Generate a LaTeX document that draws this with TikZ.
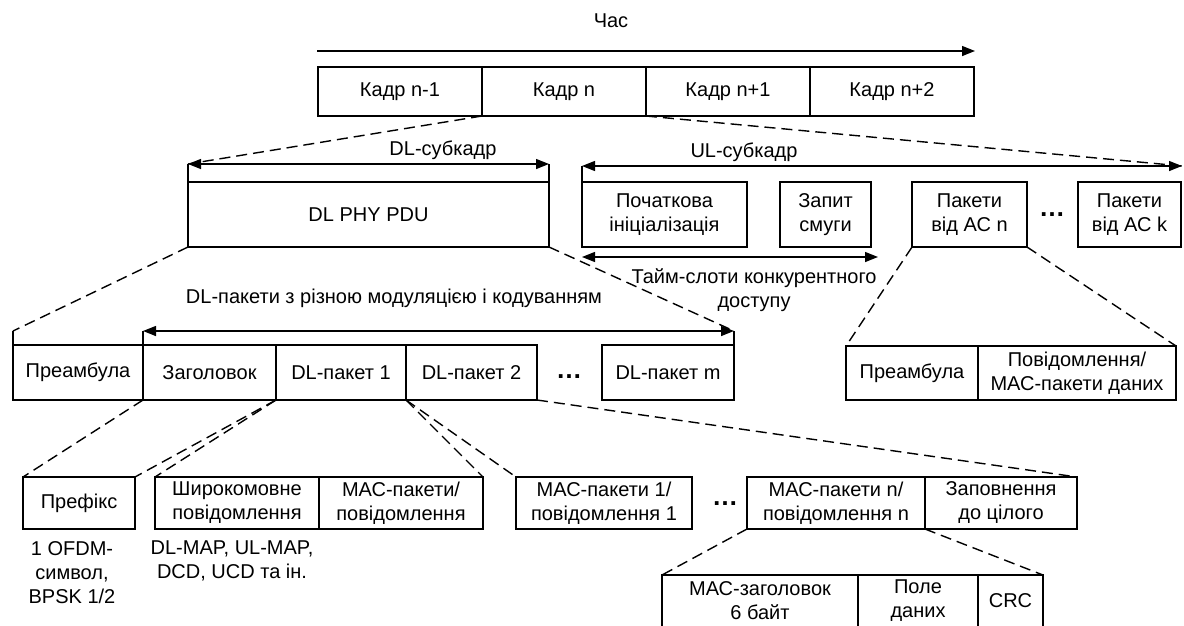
\documentclass[tikz,border=0pt]{standalone}
\usepackage{fontspec}
\setmainfont{Liberation Sans}
\usetikzlibrary{arrows.meta,positioning}
\tikzset{
 cell/.style={draw,inner sep=0pt,outer sep=0pt,align=center,anchor=north west},
 link/.style={dash pattern=on 11pt off 6pt},
 note/.style={align=center,inner sep=0pt},
 dots/.style={font=\fontsize{26}{26}\selectfont\bfseries}
}

\begin{document}
\begin{tikzpicture}[x=1pt,y=-1pt,>={Triangle[length=13pt,width=10pt]},line width=1.4pt,
 line join=miter,font=\fontsize{20}{24}\selectfont]
\useasboundingbox (0,0) rectangle (1184,625);
% Вісь часу і послідовність кадрів
\node (chas) at (611,21) {Час};
\coordinate (T0) at (317,51);
\coordinate (T1) at (975,51);
\draw[->] (T0) -- (T1);
\node[cell,minimum width=164pt,minimum height=49pt] (k1) at (318,67) {Кадр n-1};
\node[cell,minimum width=164pt,minimum height=49pt,right=0pt of k1] (k2) {Кадр n};
\node[cell,minimum width=164pt,minimum height=49pt,right=0pt of k2] (k3) {Кадр n+1};
\node[cell,minimum width=164pt,minimum height=49pt,right=0pt of k3] (k4) {Кадр n+2};
% DL-субкадр
\coordinate (D0) at (188,164);
\coordinate (D1) at (549,164);
\node[cell,minimum width=361pt,minimum height=65pt] (pdu) at (188,182) {DL PHY PDU};
\draw[<->] (D0) -- (D1);
\draw (D0) -- (pdu.north west);
\draw (D1) -- (pdu.north east);
\node (dlsub) at (443,150) {DL-субкадр};
% UL-субкадр
\coordinate (U0) at (582,166);
\coordinate (U1) at (1182,166);
\draw[<->] (U0) -- (U1);
\node (ulsub) at (744,152) {UL-субкадр};
\node[cell,minimum width=165pt,minimum height=65pt] (poch) at (582,182) {Початкова\\ініціалізація};
\node[cell,minimum width=91pt,minimum height=65pt] (zapyt) at (780,182) {Запит\\смуги};
\node[cell,minimum width=115pt,minimum height=65pt] (pakn) at (912,182) {Пакети\\від АС n};
\node[cell,minimum width=103pt,minimum height=65pt] (pakk) at (1078,182) {Пакети\\від АС k};
\node[dots] (uldots) at (1052,215) {…};
\draw (U0) -- (poch.north west);
\coordinate (C0) at (582,257);
\coordinate (C1) at (878,257);
\draw[<->] (C0) -- (C1);
\node[note] (cont) at (754,290) {Тайм-слоти конкурентного\\доступу};
\draw[link] (k2.south west) -- (D0);
\draw[link] (k3.south west) -- (U1);
% DL-пакети
\node[cell,minimum width=130pt,minimum height=55pt] (pre) at (13,345) {Преамбула};
\node[cell,minimum width=133pt,minimum height=55pt,right=0pt of pre] (zag) {Заголовок};
\node[cell,minimum width=130pt,minimum height=55pt,right=0pt of zag] (p1) {DL-пакет 1};
\node[cell,minimum width=131pt,minimum height=55pt,right=0pt of p1] (p2) {DL-пакет 2};
\node[dots] (dldots) at (569,377) {…};
\node[cell,minimum width=132pt,minimum height=55pt] (pm) at (602,345) {DL-пакет m};
\coordinate (A0) at (143,331);
\coordinate (A1) at (734,331);
\coordinate (P0) at (13,331);
\draw[<->] (A0) -- (A1);
\draw (A0) -- (zag.north west);
\draw (A1) -- (pm.north east);
\draw (P0) -- (pre.north west);
\node (dlpk) at (394,298) {DL-пакети з різною модуляцією і кодуванням};
\draw[link] (pdu.south west) -- (P0);
\draw[link] (pdu.south east) -- (A1);
% UL-пакет від АС
\node[cell,minimum width=132pt,minimum height=54pt] (ulpre) at (846,346) {Преамбула};
\node[cell,minimum width=198pt,minimum height=54pt,right=0pt of ulpre] (ulmsg) {Повідомлення/\\МАС-пакети даних};
\draw[link] (pakn.south west) -- (ulpre.north west);
\draw[link] (pakn.south east) -- (ulmsg.north east);
% Вміст DL-пакетів
\node[cell,minimum width=112pt,minimum height=52pt] (pref) at (23,477) {Префікс};
\node[cell,minimum width=164pt,minimum height=52pt] (shyr) at (155,477) {Широкомовне\\повідомлення};
\node[cell,minimum width=164pt,minimum height=52pt,right=0pt of shyr] (macm) {МАС-пакети/\\повідомлення};
\node[cell,minimum width=176pt,minimum height=52pt] (mac1) at (516,477) {МАС-пакети 1/\\повідомлення 1};
\node[dots] (botdots) at (725,504) {…};
\node[cell,minimum width=178pt,minimum height=52pt] (macn) at (747,477) {МАС-пакети n/\\повідомлення n};
\node[cell,minimum width=152pt,minimum height=52pt,right=0pt of macn] (zapov) {Заповнення\\до цілого};
\node[note] (ofdm) at (72,573) {1 OFDM-\\символ,\\BPSK 1/2};
\node[note] (maps) at (232,561) {DL-MAP, UL-MAP,\\DCD, UCD та ін.};
\draw[link] (zag.south west) -- (pref.north west);
\draw[link] (p1.south west) -- (pref.north east);
\draw[link] (p1.south west) -- (shyr.north west);
\draw[link] (p2.south west) -- (macm.north east);
\draw[link] (p2.south west) -- (mac1.north west);
\draw[link] (p2.south east) -- (zapov.north east);
% Структура МАС-пакета
\node[cell,minimum width=196pt,minimum height=52pt] (mhdr) at (662,575) {МАС-заголовок\\6 байт};
\node[cell,minimum width=120pt,minimum height=52pt,right=0pt of mhdr] (pole) {Поле\\даних};
\node[cell,minimum width=65pt,minimum height=52pt,right=0pt of pole] (crc) {CRC};
\draw[link] (macn.south west) -- (mhdr.north west);
\draw[link] (macn.south east) -- (crc.north east);
\end{tikzpicture}
\end{document}
